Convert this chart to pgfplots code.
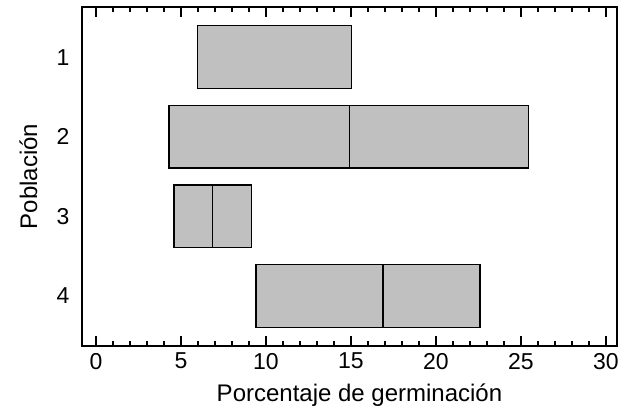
\documentclass[border=0pt]{standalone}
\usepackage{fontspec}
\setmainfont{Liberation Sans}
\usepackage{pgfplots}
\usepgfplotslibrary{statistics}
\pgfplotsset{compat=1.18}
\definecolor{boxgray}{RGB}{192,192,192}
\begin{document}
\begin{tikzpicture}
\begin{axis}[
  name=main,
  scale only axis, width=267.5pt, height=169.5pt,
  xmin=-0.82, xmax=30.65, ymin=0.37, ymax=4.63, y dir=reverse,
  xtick={0,5,...,30}, minor x tick num=4,
  ytick={1,2,3,4},
  tick align=inside, xtick pos=both, xticklabel pos=lower,
  major tick length=5pt, minor tick length=2.5pt,
  ytick style={draw=none},
  x tick style={black, line width=0.6pt},
  axis line style={line width=0.75pt},
  /pgf/number format/assume math mode=true,
  font=\fontsize{12}{14}\selectfont,
  tick label style={font=\fontsize{11.5}{14}\selectfont},
  yticklabel style={xshift=-2.7pt},
  xlabel={Porcentaje de germinación}, ylabel={Población},
  xlabel style={at={(axis description cs:0.5,0)}, anchor=center, yshift=-24.5pt, xshift=5pt},
  ylabel style={at={(axis description cs:-0.1,0.5)}, anchor=center, rotate=0},
  boxplot/draw direction=x,
  boxplot/box extend=0.79,
  boxplot/whisker extend=0,
]
\addplot[draw=black, line width=0.75pt, fill=boxgray, boxplot prepared={draw position=1,
  lower whisker=5.96, lower quartile=5.96, median=15.04, upper quartile=15.04, upper whisker=15.04}]
  coordinates {};
\addplot[draw=black, line width=0.75pt, fill=boxgray, boxplot prepared={draw position=2,
  lower whisker=4.29, lower quartile=4.29, median=14.92, upper quartile=25.45, upper whisker=25.45}]
  coordinates {};
\addplot[draw=black, line width=0.75pt, fill=boxgray, boxplot prepared={draw position=3,
  lower whisker=4.59, lower quartile=4.59, median=6.86, upper quartile=9.16, upper whisker=9.16}]
  coordinates {};
\addplot[draw=black, line width=0.75pt, fill=boxgray, boxplot prepared={draw position=4,
  lower whisker=9.41, lower quartile=9.41, median=16.9, upper quartile=22.6, upper whisker=22.6}]
  coordinates {};
\end{axis}
\pgfresetboundingbox
\path[use as bounding box] ([xshift=-41pt,yshift=-33pt]main.south west) rectangle ([xshift=1pt,yshift=3.5pt]main.north east);
\end{tikzpicture}
\end{document}
